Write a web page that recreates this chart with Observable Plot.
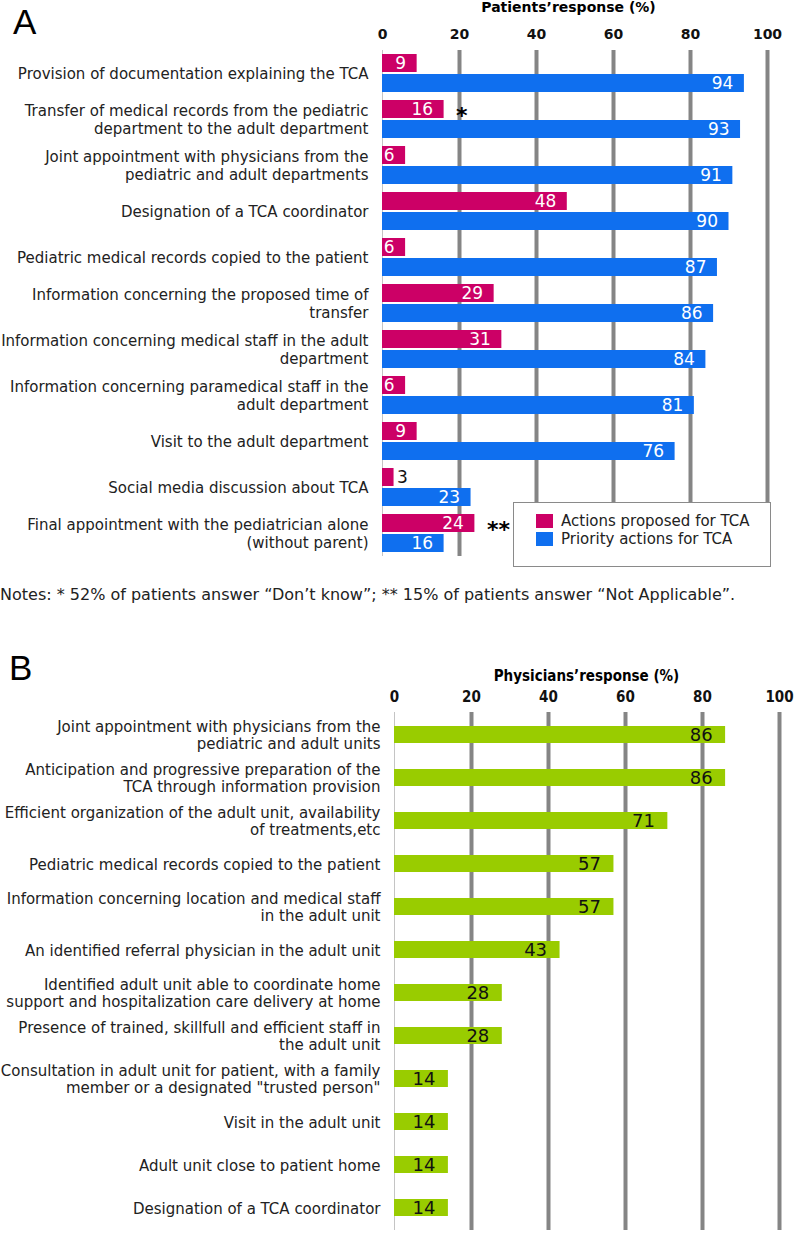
<!DOCTYPE html>
<html>
<head>
<meta charset="utf-8">
<script src="https://cdn.jsdelivr.net/npm/d3@7"></script>
<script src="https://cdn.jsdelivr.net/npm/@observablehq/plot@0.6"></script>
<style>
  html, body { margin: 0; padding: 0; background: #fff; }
  #wrap { position: relative; width: 794px; height: 1238px; overflow: hidden; font-family: "DejaVu Sans", Verdana, sans-serif; }
  #wrap > * { position: absolute; }
  .panel { font-family: "Liberation Sans", Arial, sans-serif; font-size: 35px; line-height: 1; color: #000; }
  .title { text-align: center; white-space: nowrap; }
  #legend { left: 513px; top: 502px; width: 256px; height: 63px; border: 1px solid #8a8a8a; background: #fff; font-size: 15px; }
  #legend .row { position: absolute; left: 22px; display: flex; align-items: center; white-space: nowrap; color: #222; }
  #legend .sw { width: 17px; height: 14px; margin-right: 8px; }
  #notes { left: 0; top: 585px; font-size: 16px; white-space: nowrap; color: #222; }
</style>
</head>
<body>
<div id="wrap">
  <div id="chartA" style="left:0;top:0"></div>
  <div id="chartB" style="left:0;top:650px"></div>
  <div class="panel" style="left:13px;top:4px">A</div>
  <div class="title" id="titleA" style="left:376px;top:0px;width:385px;font-weight:bold;font-size:14px;line-height:15px">Patients’response (%)</div>
  <div id="legend"></div>
  <div id="notes"></div>
  <div class="panel" style="left:9px;top:650px">B</div>
  <div class="title" id="titleB" style="left:394px;top:668px;width:385px;font-family:'DejaVu Sans Condensed','DejaVu Sans',sans-serif;font-weight:bold;font-size:15px;line-height:17px">Physicians’response (%)</div>
</div>
<script>
// ---------- Data ----------
const categoriesA = [
  "Provision of documentation explaining the TCA",
  "Transfer of medical records from the pediatric\ndepartment to the adult department",
  "Joint appointment with physicians from the\npediatric and adult departments",
  "Designation of a TCA coordinator",
  "Pediatric medical records copied to the patient",
  "Information concerning the proposed time of\ntransfer",
  "Information concerning medical staff in the adult\ndepartment",
  "Information concerning paramedical staff in the\nadult department",
  "Visit to the adult department",
  "Social media discussion about TCA",
  "Final appointment with the pediatrician alone\n(without parent)"
];
const proposedA = [9, 16, 6, 48, 6, 29, 31, 6, 9, 3, 24];
const priorityA = [94, 93, 91, 90, 87, 86, 84, 81, 76, 23, 16];
const markersA = ["", "*", "", "", "", "", "", "", "", "", "**"];
const seriesA = ["Actions proposed for TCA", "Priority actions for TCA"];
const colorsA = ["#CC0066", "#0F6FEF"];

const categoriesB = [
  "Joint appointment with physicians from the\npediatric and adult units",
  "Anticipation and progressive preparation of the\nTCA through information provision",
  "Efficient organization of the adult unit, availability\nof treatments,etc",
  "Pediatric medical records copied to the patient",
  "Information concerning location and medical staff\nin the adult unit",
  "An identified referral physician in the adult unit",
  "Identified adult unit able to coordinate home\nsupport and hospitalization care delivery at home",
  "Presence of trained, skillfull and efficient staff in\nthe adult unit",
  "Consultation in adult unit for patient, with a family\nmember or a designated \"trusted person\"",
  "Visit in the adult unit",
  "Adult unit close to patient home",
  "Designation of a TCA coordinator"
];
const valuesB = [86, 86, 71, 57, 57, 43, 28, 28, 14, 14, 14, 14];
const colorB = "#99CC00";

const xTicks = [0, 20, 40, 60, 80, 100];
const gridTicks = [20, 40, 60, 80, 100];
const notesText = "Notes: * 52% of patients answer “Don’t know”; ** 15% of patients answer “Not Applicable”.";

// ---------- Panel A ----------
const rowsA = [];
categoriesA.forEach((c, i) => {
  rowsA.push({cat: c, series: seriesA[0], value: proposedA[i], marker: markersA[i]});
  rowsA.push({cat: c, series: seriesA[1], value: priorityA[i], marker: ""});
});
const markerRows = rowsA.filter(d => d.marker);

const chartA = Plot.plot({
  width: 794, height: 562,
  marginTop: 48, marginBottom: 5, marginLeft: 382, marginRight: 27,
  style: {fontFamily: "DejaVu Sans, Verdana, sans-serif", background: "transparent", color: "#222"},
  x: {domain: [0, 100], axis: null},
  y: {domain: seriesA, axis: null, paddingInner: 0.1, paddingOuter: 0.2},
  fy: {domain: categoriesA, padding: 0, axis: null},
  color: {domain: seriesA, range: colorsA},
  marks: [
    Plot.ruleX(gridTicks, {stroke: "#858585", strokeWidth: 4}),
    Plot.ruleX([0], {stroke: "#c4c4c4", strokeWidth: 1}),
    Plot.barX(rowsA, {fy: "cat", y: "series", x: "value", fill: "series"}),
    Plot.text(rowsA.filter(d => d.value >= 5), {fy: "cat", y: "series", x: "value", text: d => String(d.value), textAnchor: "end", dx: -11, fill: "white", fontSize: 17}),
    Plot.text(rowsA.filter(d => d.value < 5), {fy: "cat", y: "series", x: "value", text: d => String(d.value), textAnchor: "start", dx: 3, fill: "#111", fontSize: 17}),
    Plot.text(markerRows, {fy: "cat", y: "series", x: "value", text: "marker", textAnchor: "start", dx: 12, dy: 6, fill: "#000", fontSize: 22, fontWeight: "bold"}),
    Plot.axisX(xTicks, {anchor: "top", tickSize: 0, tickPadding: 12, fontSize: 14, fontWeight: "bold", label: null, fill: "#111"}),
    Plot.axisFy({anchor: "left", tickSize: 0, tickPadding: 14, fontSize: 15, label: null, lineHeight: 1.15})
  ]
});
document.getElementById("chartA").appendChild(chartA);

// ---------- Panel B ----------
const rowsB = categoriesB.map((c, i) => ({cat: c, value: valuesB[i]}));
const chartB = Plot.plot({
  width: 794, height: 585,
  marginTop: 62, marginBottom: 5, marginLeft: 394, marginRight: 15,
  style: {fontFamily: "DejaVu Sans, Verdana, sans-serif", background: "transparent", color: "#222"},
  x: {domain: [0, 100], axis: null},
  y: {domain: categoriesB, axis: null, paddingInner: 0.6, paddingOuter: 0.3},
  marks: [
    Plot.ruleX(gridTicks, {stroke: "#858585", strokeWidth: 4}),
    Plot.ruleX([0], {stroke: "#c4c4c4", strokeWidth: 1}),
    Plot.barX(rowsB, {y: "cat", x: "value", fill: colorB}),
    Plot.text(rowsB, {y: "cat", x: "value", text: d => String(d.value), textAnchor: "end", dx: -13, fill: "#111", fontSize: 18}),
    Plot.axisX(xTicks, {anchor: "top", tickSize: 0, tickPadding: 11, fontSize: 15, fontWeight: "bold", label: null, fill: "#111", fontFamily: "DejaVu Sans Condensed, DejaVu Sans, sans-serif"}),
    Plot.axisY({anchor: "left", tickSize: 0, tickPadding: 14, fontSize: 15, label: null, lineHeight: 1.15})
  ]
});
document.getElementById("chartB").appendChild(chartB);

// ---------- Legend & notes ----------
const legend = document.getElementById("legend");
seriesA.forEach((s, i) => {
  const row = document.createElement("div");
  row.className = "row";
  row.style.top = (9 + i * 18) + "px";
  const sw = document.createElement("span");
  sw.className = "sw";
  sw.style.background = colorsA[i];
  const t = document.createElement("span");
  t.textContent = s;
  row.appendChild(sw); row.appendChild(t);
  legend.appendChild(row);
});
document.getElementById("notes").textContent = notesText;
</script>
</body>
</html>
